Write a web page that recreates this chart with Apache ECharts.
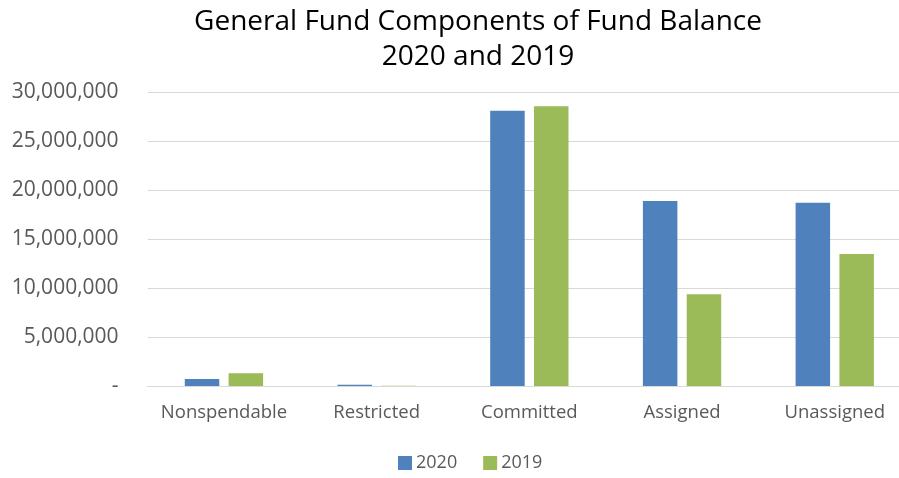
<!DOCTYPE html>
<html><head><meta charset="utf-8">
<script src="https://cdn.jsdelivr.net/npm/echarts@6/dist/echarts.min.js"></script>
<style>html,body{margin:0;padding:0;background:#fff}#c{width:899px;height:478px}</style>
</head><body><div id="c"></div>
<script>
const categories = ['Nonspendable', 'Restricted', 'Committed', 'Assigned', 'Unassigned'];
const values2020 = [710000, 130000, 28090000, 18880000, 18700000];
const values2019 = [1300000, 20000, 28540000, 9350000, 13470000];
const yTicks = { min: 0, max: 30000000, interval: 5000000 };
const font = '"Open Sans", sans-serif';
const chart = echarts.init(document.getElementById('c'));
chart.setOption({
  animation: false,
  title: {
    text: 'General Fund Components of Fund Balance\n2020 and 2019',
    left: 473, textAlign: 'center', top: 0,
    textStyle: { fontFamily: font, fontSize: 28, fontWeight: 'normal', color: '#000', lineHeight: 35 }
  },
  legend: {
    data: ['2020', '2019'], bottom: 1, left: 393,
    itemWidth: 14, itemHeight: 14, itemGap: 26, icon: 'rect',
    textStyle: { fontFamily: font, fontSize: 18, color: '#595959', padding: [0, 0, 0, -1] }
  },
  grid: { left: 147.6, width: 763.5, top: 92, bottom: 92, containLabel: false, outerBoundsMode: 'none' },
  xAxis: {
    type: 'category', data: categories,
    axisTick: { show: false },
    axisLine: { lineStyle: { color: '#d9d9d9', width: 1 } },
    axisLabel: { fontFamily: font, fontSize: 18.5, color: '#595959', margin: 17, interval: 0 }
  },
  yAxis: {
    type: 'value', min: yTicks.min, max: yTicks.max, interval: yTicks.interval,
    axisLine: { show: false }, axisTick: { show: false },
    splitLine: { lineStyle: { color: '#d9d9d9', width: 1 } },
    axisLabel: {
      fontFamily: font, fontSize: 21, color: '#595959', margin: 29,
      formatter: v => v === 0 ? '-' : v.toLocaleString('en-US')
    }
  },
  series: [
    { name: '2020', type: 'bar', data: values2020, barWidth: 34.5, barGap: '27%', itemStyle: { color: '#4f81bd' } },
    { name: '2019', type: 'bar', data: values2019, barWidth: 34.5, itemStyle: { color: '#9bbb59' } }
  ]
});
</script></body></html>
